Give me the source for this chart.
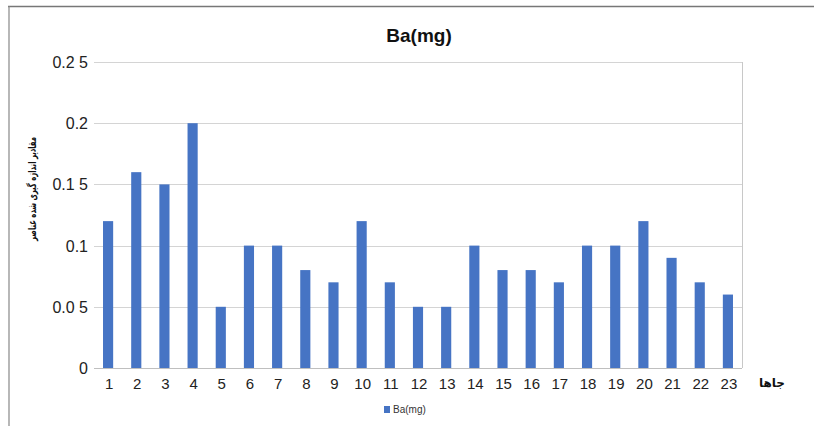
<!DOCTYPE html>
<html>
<head>
<meta charset="utf-8">
<script src="https://cdn.jsdelivr.net/npm/d3@7"></script>
<style>
  body { margin: 0; background: #fff; }
  svg { display: block; font-family: 'Liberation Sans', Arial, sans-serif; }
</style>
</head>
<body>
<div id="chart"></div>
<script>
const sites = d3.range(1, 24).map(String);
const baValues = [0.12, 0.16, 0.15, 0.2, 0.05, 0.1, 0.1, 0.08, 0.07, 0.12, 0.07, 0.05,
  0.05, 0.1, 0.08, 0.08, 0.07, 0.1, 0.1, 0.12, 0.09, 0.07, 0.06];
const yTicks = [0, 0.05, 0.1, 0.15, 0.2, 0.25];
const yTickLabels = ['0', '0.0 5', '0.1', '0.1 5', '0.2', '0.2 5'];
const seriesName = 'Ba(mg)';

const width = 814,
  height = 426;
const margin = { top: 62, left: 94, right: 72, bottom: 58 };

const svg = d3
  .select('#chart')
  .append('svg')
  .attr('width', width)
  .attr('height', height);

// outer frame (top and left edges visible)
svg.append('line').attr('x1', 8).attr('x2', width).attr('y1', 6.5).attr('y2', 6.5)
  .attr('stroke', '#777').attr('stroke-width', 1.5);
svg.append('line').attr('x1', 9).attr('x2', 9).attr('y1', 6).attr('y2', height)
  .attr('stroke', '#888').attr('stroke-width', 1.2);

const x = d3
  .scaleBand()
  .domain(sites)
  .range([margin.left, width - margin.right])
  .paddingInner(0.64)
  .paddingOuter(0.32);

const y = d3
  .scaleLinear()
  .domain([0, 0.25])
  .range([height - margin.bottom, margin.top]);

// gridlines
svg
  .append('g')
  .selectAll('line')
  .data(yTicks.slice(1))
  .join('line')
  .attr('x1', margin.left)
  .attr('x2', width - margin.right)
  .attr('y1', (d) => Math.round(y(d)) + 0.5)
  .attr('y2', (d) => Math.round(y(d)) + 0.5)
  .attr('stroke', '#d4d4d4');

// right border of plot area
svg.append('line')
  .attr('x1', width - margin.right + 0.5).attr('x2', width - margin.right + 0.5)
  .attr('y1', y(0.25)).attr('y2', y(0))
  .attr('stroke', '#c8c8c8');

// bars
svg
  .append('g')
  .selectAll('rect')
  .data(baValues)
  .join('rect')
  .attr('x', (d, i) => x(sites[i]))
  .attr('y', (d) => y(d))
  .attr('width', x.bandwidth())
  .attr('height', (d) => y(0) - y(d))
  .attr('fill', '#4674c4');

// x axis line
svg.append('line')
  .attr('x1', margin.left).attr('x2', width - margin.right)
  .attr('y1', Math.round(y(0)) + 0.5).attr('y2', Math.round(y(0)) + 0.5)
  .attr('stroke', '#bfbfbf');

// y tick labels
svg
  .append('g')
  .selectAll('text')
  .data(yTicks)
  .join('text')
  .attr('x', 88)
  .attr('y', (d) => y(d) + 6)
  .attr('text-anchor', 'end')
  .attr('font-size', 16)
  .attr('fill', '#222')
  .text((d, i) => yTickLabels[i]);

// x tick labels
svg
  .append('g')
  .selectAll('text')
  .data(sites)
  .join('text')
  .attr('x', (d) => x(d) + x.bandwidth() / 2 + 1)
  .attr('y', y(0) + 21)
  .attr('text-anchor', 'middle')
  .attr('font-size', 15)
  .attr('fill', '#222')
  .text((d) => d);

// title
svg.append('text')
  .attr('x', 419)
  .attr('y', 42)
  .attr('text-anchor', 'middle')
  .attr('font-size', 19)
  .attr('font-weight', 'bold')
  .attr('fill', '#111')
  .text(seriesName);

// y axis title
svg.append('text')
  .attr('transform', 'translate(36,189) rotate(-90)')
  .attr('text-anchor', 'middle')
  .attr('font-size', 11)
  .attr('font-weight', 'bold')
  .attr('font-family', "'DejaVu Sans', 'Noto Sans', sans-serif")
  .attr('fill', '#111')
  .attr('textLength', 104)
  .attr('lengthAdjust', 'spacingAndGlyphs')
  .text('مقادیر اندازه گیری شده عناصر');

// x axis title
svg.append('text')
  .attr('x', 772)
  .attr('y', 387)
  .attr('text-anchor', 'middle')
  .attr('font-size', 12)
  .attr('font-weight', 'bold')
  .attr('font-family', "'DejaVu Sans', 'Noto Sans', sans-serif")
  .attr('fill', '#111')
  .text('جاها');

// legend
const legend = svg.append('g').attr('transform', 'translate(384,406)');
legend.append('rect').attr('width', 6).attr('height', 7).attr('y', 0).attr('fill', '#4674c4');
legend.append('text')
  .attr('x', 9)
  .attr('y', 7)
  .attr('font-size', 10)
  .attr('fill', '#333')
  .text(seriesName);
</script>
</body>
</html>
